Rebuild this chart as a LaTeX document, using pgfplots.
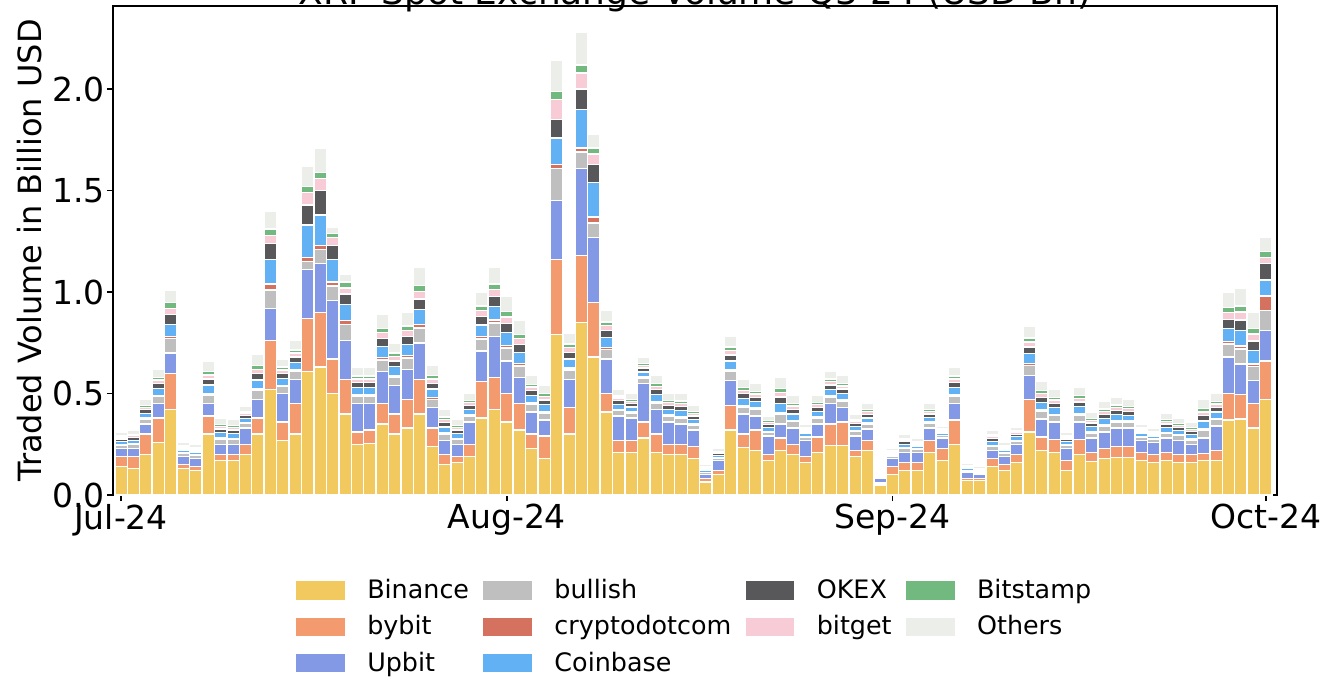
\documentclass[border=0pt]{standalone}
\usepackage{fontspec}
\setmainfont{DejaVu Sans}
\usepackage{pgfplots}
\usepackage{pgfplotstable}
\pgfplotsset{compat=1.18}
\definecolor{binance}{HTML}{F1C95F}
\definecolor{bybit}{HTML}{F39A6E}
\definecolor{upbit}{HTML}{8399E6}
\definecolor{bullish}{HTML}{BFBFBF}
\definecolor{cdc}{HTML}{D4725F}
\definecolor{coinbase}{HTML}{63B1F5}
\definecolor{okex}{HTML}{58585A}
\definecolor{bitget}{HTML}{F7CCD6}
\definecolor{bitstamp}{HTML}{71B97F}
\definecolor{others}{HTML}{ECEEE9}
\pgfplotstableread{
x B Y U G C CB O BG BS OT
0 0.14 0.05 0.04 0.016 0.003 0.016 0.011 0.008 0.006 0.019
1 0.13 0.06 0.04 0.018 0.004 0.018 0.013 0.009 0.007 0.022
2 0.20 0.10 0.05 0.024 0.005 0.024 0.017 0.012 0.010 0.029
3 0.26 0.12 0.07 0.034 0.007 0.034 0.024 0.017 0.014 0.041
4 0.42 0.18 0.10 0.07 0.01 0.06 0.05 0.03 0.03 0.06
5 0.13 0.02 0.04 0.014 0.003 0.014 0.010 0.007 0.006 0.017
6 0.12 0.02 0.04 0.014 0.003 0.014 0.010 0.007 0.006 0.017
7 0.30 0.09 0.06 0.042 0.008 0.042 0.029 0.021 0.017 0.050
8 0.17 0.03 0.05 0.026 0.005 0.026 0.018 0.013 0.010 0.031
9 0.17 0.03 0.05 0.024 0.005 0.024 0.017 0.012 0.010 0.029
10 0.20 0.05 0.08 0.022 0.004 0.022 0.015 0.011 0.009 0.026
11 0.30 0.08 0.09 0.044 0.009 0.044 0.031 0.022 0.018 0.053
12 0.52 0.24 0.16 0.09 0.03 0.12 0.08 0.04 0.03 0.09
13 0.27 0.09 0.14 0.034 0.007 0.034 0.024 0.017 0.014 0.041
14 0.30 0.15 0.12 0.038 0.008 0.038 0.027 0.019 0.015 0.046
15 0.61 0.26 0.24 0.04 0.02 0.16 0.10 0.06 0.03 0.10
16 0.63 0.27 0.24 0.07 0.02 0.15 0.12 0.06 0.03 0.12
17 0.50 0.17 0.29 0.07 0.02 0.11 0.07 0.04 0.02 0.03
18 0.40 0.17 0.19 0.08 0.02 0.08 0.05 0.03 0.03 0.04
19 0.25 0.06 0.14 0.036 0.007 0.036 0.025 0.018 0.014 0.043
20 0.255 0.065 0.13 0.036 0.007 0.036 0.025 0.018 0.014 0.043
21 0.35 0.10 0.16 0.056 0.011 0.056 0.039 0.028 0.022 0.067
22 0.30 0.10 0.14 0.042 0.008 0.042 0.029 0.021 0.017 0.050
23 0.33 0.14 0.15 0.056 0.011 0.056 0.039 0.028 0.022 0.067
24 0.40 0.17 0.18 0.074 0.015 0.074 0.052 0.037 0.030 0.089
25 0.24 0.09 0.10 0.042 0.008 0.042 0.029 0.021 0.017 0.050
26 0.15 0.05 0.07 0.030 0.006 0.030 0.021 0.015 0.012 0.036
27 0.16 0.03 0.06 0.024 0.005 0.024 0.017 0.012 0.010 0.029
28 0.19 0.06 0.11 0.028 0.006 0.028 0.020 0.014 0.011 0.034
29 0.38 0.18 0.15 0.058 0.012 0.058 0.041 0.029 0.023 0.070
30 0.42 0.16 0.20 0.068 0.014 0.068 0.048 0.034 0.027 0.082
31 0.36 0.14 0.16 0.064 0.013 0.064 0.045 0.032 0.026 0.077
32 0.32 0.13 0.13 0.056 0.011 0.056 0.039 0.028 0.022 0.067
33 0.23 0.07 0.11 0.036 0.007 0.036 0.025 0.018 0.014 0.043
34 0.18 0.11 0.08 0.034 0.007 0.034 0.024 0.017 0.014 0.041
35 0.79 0.37 0.29 0.16 0.02 0.13 0.09 0.10 0.04 0.15
36 0.30 0.13 0.14 0.046 0.009 0.046 0.032 0.023 0.018 0.055
37 0.85 0.33 0.43 0.08 0.02 0.19 0.10 0.08 0.04 0.16
38 0.68 0.27 0.32 0.07 0.03 0.17 0.09 0.05 0.03 0.07
39 0.41 0.09 0.17 0.048 0.010 0.048 0.034 0.024 0.019 0.058
40 0.21 0.06 0.12 0.026 0.005 0.026 0.018 0.013 0.010 0.031
41 0.21 0.06 0.11 0.024 0.005 0.024 0.017 0.012 0.010 0.029
42 0.28 0.08 0.19 0.026 0.005 0.026 0.018 0.013 0.010 0.031
43 0.21 0.09 0.12 0.034 0.007 0.034 0.024 0.017 0.014 0.041
44 0.20 0.05 0.11 0.028 0.006 0.028 0.020 0.014 0.011 0.034
45 0.20 0.05 0.10 0.030 0.006 0.030 0.021 0.015 0.012 0.036
46 0.18 0.06 0.08 0.024 0.005 0.024 0.017 0.012 0.010 0.029
47 0.065 0.015 0.02 0.010 0.002 0.010 0.007 0.005 0.004 0.012
48 0.10 0.02 0.05 0.012 0.002 0.012 0.008 0.006 0.005 0.014
49 0.32 0.12 0.125 0.043 0.009 0.043 0.030 0.022 0.017 0.052
50 0.235 0.065 0.10 0.034 0.007 0.034 0.024 0.017 0.014 0.041
51 0.22 0.10 0.07 0.032 0.006 0.032 0.022 0.016 0.013 0.038
52 0.17 0.03 0.09 0.020 0.004 0.020 0.014 0.010 0.008 0.024
53 0.22 0.06 0.07 0.046 0.009 0.046 0.032 0.023 0.018 0.055
54 0.20 0.05 0.08 0.032 0.006 0.032 0.022 0.016 0.013 0.038
55 0.16 0.03 0.08 0.016 0.003 0.016 0.011 0.008 0.006 0.019
56 0.21 0.075 0.065 0.028 0.006 0.028 0.020 0.014 0.011 0.034
57 0.245 0.105 0.10 0.032 0.006 0.032 0.022 0.016 0.013 0.038
58 0.245 0.115 0.07 0.032 0.006 0.032 0.022 0.016 0.013 0.038
59 0.19 0.03 0.07 0.022 0.004 0.022 0.015 0.011 0.009 0.026
60 0.22 0.05 0.055 0.025 0.005 0.025 0.018 0.013 0.010 0.030
61 0.05 0.01 0.02 0.005 0.001 0.005 0.004 0.003 0.002 0.006
62 0.10 0.04 0.04 0.010 0.002 0.010 0.007 0.005 0.004 0.012
63 0.12 0.04 0.05 0.018 0.004 0.018 0.013 0.009 0.007 0.022
64 0.12 0.04 0.05 0.014 0.003 0.014 0.010 0.007 0.006 0.017
65 0.21 0.06 0.06 0.024 0.005 0.024 0.017 0.012 0.010 0.029
66 0.17 0.06 0.05 0.012 0.002 0.012 0.008 0.006 0.005 0.014
67 0.25 0.12 0.08 0.036 0.007 0.036 0.025 0.018 0.014 0.043
68 0.07 0.01 0.03 0.009 0.002 0.009 0.006 0.005 0.004 0.011
69 0.07 0.01 0.02 0.008 0.002 0.008 0.006 0.004 0.003 0.010
70 0.14 0.04 0.04 0.020 0.004 0.020 0.014 0.010 0.008 0.024
71 0.12 0.03 0.04 0.014 0.003 0.014 0.010 0.007 0.006 0.017
72 0.16 0.04 0.05 0.017 0.003 0.017 0.012 0.009 0.007 0.020
73 0.31 0.16 0.12 0.048 0.010 0.048 0.034 0.024 0.019 0.058
74 0.22 0.065 0.09 0.037 0.007 0.037 0.026 0.019 0.015 0.044
75 0.21 0.065 0.085 0.032 0.006 0.032 0.022 0.016 0.013 0.038
76 0.12 0.05 0.06 0.016 0.003 0.016 0.011 0.008 0.006 0.019
77 0.20 0.075 0.085 0.034 0.007 0.034 0.024 0.017 0.014 0.041
78 0.165 0.045 0.07 0.026 0.005 0.026 0.018 0.013 0.010 0.031
79 0.18 0.05 0.08 0.030 0.006 0.030 0.021 0.015 0.012 0.036
80 0.185 0.055 0.09 0.030 0.006 0.030 0.021 0.015 0.012 0.036
81 0.185 0.055 0.09 0.028 0.006 0.028 0.020 0.014 0.011 0.034
82 0.17 0.04 0.06 0.016 0.003 0.016 0.011 0.008 0.006 0.019
83 0.16 0.04 0.06 0.014 0.003 0.014 0.010 0.007 0.006 0.017
84 0.17 0.04 0.07 0.024 0.005 0.024 0.017 0.012 0.010 0.029
85 0.16 0.04 0.07 0.022 0.004 0.022 0.015 0.011 0.009 0.026
86 0.16 0.04 0.05 0.022 0.004 0.022 0.015 0.011 0.009 0.026
87 0.17 0.035 0.075 0.038 0.008 0.038 0.027 0.019 0.015 0.046
88 0.17 0.05 0.12 0.032 0.006 0.032 0.022 0.016 0.013 0.038
89 0.37 0.13 0.18 0.064 0.013 0.064 0.045 0.032 0.026 0.077
90 0.375 0.12 0.15 0.075 0.015 0.075 0.053 0.038 0.030 0.090
91 0.33 0.12 0.115 0.067 0.013 0.067 0.047 0.034 0.027 0.080
92 0.47 0.19 0.15 0.10 0.07 0.08 0.08 0.03 0.03 0.07
}\data
\begin{document}
\begin{tikzpicture}
\begin{axis}[
  scale only axis,
  width=582pt, height=244.5pt,
  ybar stacked,
  bar width=1,
  xmin=-0.65, xmax=92.9,
  ymin=0, ymax=2.41,
  axis line style={line width=0.8pt, black},
  tick align=outside,
  tick pos=left,
  major tick length=3pt,
  tick style={line width=0.8pt, black},
  xtick={0,31,62,92},
  xticklabels={Jul-24,Aug-24,Sep-24,Oct-24},
  ytick={0,0.5,1.0,1.5,2.0},
  /pgf/number format/assume math mode=true,
  yticklabel style={/pgf/number format/fixed,/pgf/number format/fixed zerofill,/pgf/number format/precision=1, xshift=2.5pt},
  xticklabel style={yshift=2pt},
  ticklabel style={font=\fontsize{16.5}{20}\selectfont},
  ylabel={Traded Volume in Billion USD},
  ylabel style={font=\fontsize{16}{19}\selectfont, at={(axis description cs:0,0.5)}, anchor=center, yshift=41.5pt},
  every axis plot/.append style={draw=white, line width=0.7pt},
  legend columns=4,
  legend cell align=left,
  legend image code/.code={\fill[#1] (0pt,-5pt) rectangle (25pt,5pt);},
  legend style={at={(0.5,0)}, anchor=north, yshift=-38pt, draw=none, fill=none,
    font=\fontsize{12.7}{15}\selectfont, row sep=3pt,
    /tikz/every odd column/.append style={column sep=8.5pt},
    /tikz/every even column/.append style={column sep=4.5pt}},
]
\addplot[fill=binance, forget plot] table[x=x,y=B] {\data};
\addplot[fill=bybit, forget plot] table[x=x,y=Y] {\data};
\addplot[fill=upbit, forget plot] table[x=x,y=U] {\data};
\addplot[fill=bullish, forget plot] table[x=x,y=G] {\data};
\addplot[fill=cdc, forget plot] table[x=x,y=C] {\data};
\addplot[fill=coinbase, forget plot] table[x=x,y=CB] {\data};
\addplot[fill=okex, forget plot] table[x=x,y=O] {\data};
\addplot[fill=bitget, forget plot] table[x=x,y=BG] {\data};
\addplot[fill=bitstamp, forget plot] table[x=x,y=BS] {\data};
\addplot[fill=others, forget plot] table[x=x,y=OT] {\data};
\addlegendimage{fill=binance}\addlegendentry{Binance}
\addlegendimage{fill=bullish}\addlegendentry{bullish}
\addlegendimage{fill=okex}\addlegendentry{OKEX}
\addlegendimage{fill=bitstamp}\addlegendentry{Bitstamp}
\addlegendimage{fill=bybit}\addlegendentry{bybit}
\addlegendimage{fill=cdc}\addlegendentry{cryptodotcom}
\addlegendimage{fill=bitget}\addlegendentry{bitget}
\addlegendimage{fill=others}\addlegendentry{Others}
\addlegendimage{fill=upbit}\addlegendentry{Upbit}
\addlegendimage{fill=coinbase}\addlegendentry{Coinbase}
\end{axis}
\node[anchor=base, font=\fontsize{18}{22}\selectfont] at ([yshift=0.5pt]current axis.north) {XRP Spot Exchange Volume Q3'24 (USD Bn)};
\pgfresetboundingbox
\path[use as bounding box] ([xshift=-56.5pt,yshift=-93pt]current axis.south west) rectangle ([xshift=29pt,yshift=3pt]current axis.north east);
\end{tikzpicture}
\end{document}
